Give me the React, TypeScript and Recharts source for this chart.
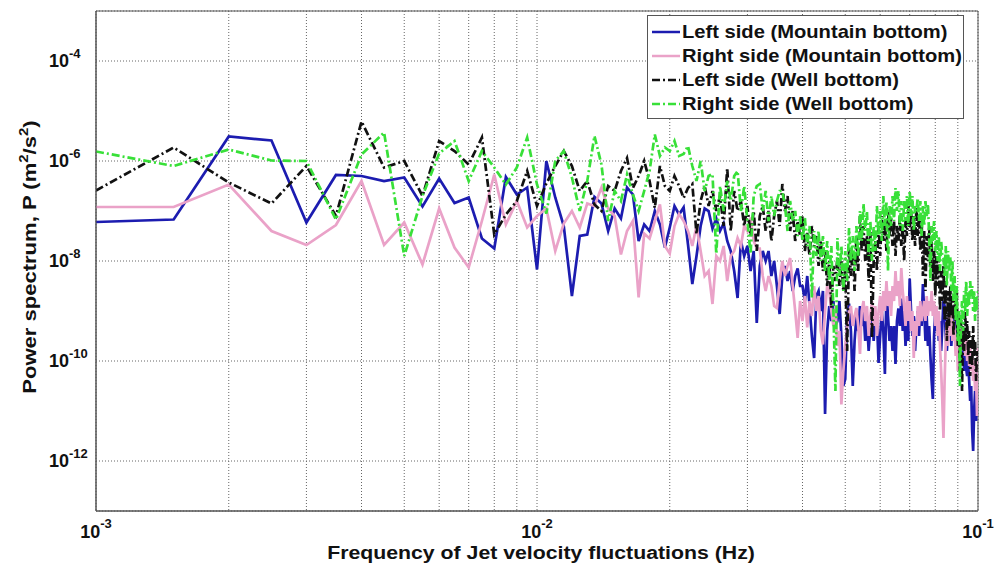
import { LineChart, Line, XAxis, YAxis, CartesianGrid, Legend, ReferenceArea } from "recharts";

// frequency in mHz (step 0.5 mHz)
const freqMHz = [
  1, 1.5, 2, 2.5, 3, 3.5, 4, 4.5, 5, 5.5,
  6, 6.5, 7, 7.5, 8, 8.5, 9, 9.5, 10, 10.5,
  11, 11.5, 12, 12.5, 13, 13.5, 14, 14.5, 15, 15.5,
  16, 16.5, 17, 17.5, 18, 18.5, 19, 19.5, 20, 20.5,
  21, 21.5, 22, 22.5, 23, 23.5, 24, 24.5, 25, 25.5,
  26, 26.5, 27, 27.5, 28, 28.5, 29, 29.5, 30, 30.5,
  31, 31.5, 32, 32.5, 33, 33.5, 34, 34.5, 35, 35.5,
  36, 36.5, 37, 37.5, 38, 38.5, 39, 39.5, 40, 40.5,
  41, 41.5, 42, 42.5, 43, 43.5, 44, 44.5, 45, 45.5,
  46, 46.5, 47, 47.5, 48, 48.5, 49, 49.5, 50, 50.5,
  51, 51.5, 52, 52.5, 53, 53.5, 54, 54.5, 55, 55.5,
  56, 56.5, 57, 57.5, 58, 58.5, 59, 59.5, 60, 60.5,
  61, 61.5, 62, 62.5, 63, 63.5, 64, 64.5, 65, 65.5,
  66, 66.5, 67, 67.5, 68, 68.5, 69, 69.5, 70, 70.5,
  71, 71.5, 72, 72.5, 73, 73.5, 74, 74.5, 75, 75.5,
  76, 76.5, 77, 77.5, 78, 78.5, 79, 79.5, 80, 80.5,
  81, 81.5, 82, 82.5, 83, 83.5, 84, 84.5, 85, 85.5,
  86, 86.5, 87, 87.5, 88, 88.5, 89, 89.5, 90, 90.5,
  91, 91.5, 92, 92.5, 93, 93.5, 94, 94.5, 95, 95.5,
  96, 96.5, 97, 97.5, 98, 98.5, 99, 99.5, 100,
];

// log10 of power spectrum
const leftMountain = [
  -7.22, -7.17, -5.51, -5.59, -7.23, -6.28, -6.3, -6.4, -6.33, -6.91,
  -6.35, -6.84, -6.73, -7.55, -7.75, -6.32, -6.67, -6.53, -8.17, -6.0,
  -6.73, -7.3, -8.7, -7.5, -7.47, -6.72, -6.85, -7.4, -6.95, -7.15,
  -6.53, -6.67, -7.6, -7.27, -7.4, -7.0, -7.27, -7.73, -7.33, -6.9,
  -7.07, -6.93, -7.67, -8.46, -7.9, -7.3, -6.95, -7.0, -7.35, -7.15,
  -7.4, -7.25, -7.6, -7.8, -8.2, -8.74, -7.6, -7.9, -7.7, -8.2,
  -7.8, -9.24, -8.1, -7.8, -8.0, -7.8, -8.3, -8.0, -8.5, -9.06,
  -8.3, -8.1, -8.4, -8.2, -8.6, -8.3, -8.15, -8.5, -8.5, -8.8,
  -8.3, -8.9, -9.5, -9.94, -8.7, -8.6, -9.0, -8.6, -11.06, -9.4,
  -8.9, -9.2, -8.8, -9.3, -9.2, -8.8, -9.5, -10.5, -10.36, -9.1,
  -8.85, -9.4, -10.5, -9.6, -9.1, -9.4, -8.9, -9.3, -9.0, -9.6,
  -9.2, -9.8, -9.3, -9.1, -9.6, -9.15, -9.2, -10.04, -9.5, -9.0,
  -9.4, -10.26, -8.6, -9.1, -9.6, -9.3, -9.8, -9.3, -10.06, -9.2,
  -8.95, -9.3, -8.75, -9.4, -9.0, -9.7, -9.2, -9.6, -8.35, -9.0,
  -9.5, -9.1, -9.8, -9.3, -9.0, -9.5, -8.9, -9.3, -8.46, -9.0,
  -9.6, -9.1, -9.7, -9.3, -9.9, -10.4, -10.76, -9.5, -9.0, -9.4,
  -9.0, -9.6, -9.2, -9.8, -9.3, -8.8, -8.9, -9.5, -9.8, -9.4,
  -9.0, -9.3, -9.7, -9.2, -9.5, -9.1, -9.6, -9.3, -9.8, -9.4,
  -9.9, -9.6, -10.0, -9.7, -10.2, -9.9, -10.14, -10.3, -10.0, -10.4,
  -10.8, -10.5, -11.4, -11.8, -11.0, -10.6, -11.2, -10.4, -10.2,
];

const rightMountain = [
  -6.92, -6.92, -6.47, -7.4, -7.68, -7.28, -6.4, -7.68, -7.23, -8.07,
  -6.95, -7.73, -8.13, -7.2, -6.27, -7.27, -6.8, -7.33, -7.1, -6.95,
  -7.8, -7.25, -7.0, -7.33, -6.85, -6.9, -6.53, -6.95, -7.1, -7.87,
  -7.4, -7.2, -8.73, -7.45, -7.55, -7.2, -6.87, -7.7, -7.85, -7.3,
  -7.06, -7.2, -7.4, -7.7, -7.3, -7.8, -8.3, -8.2, -8.86, -7.9,
  -8.0, -7.7, -8.4, -7.9, -7.8, -7.54, -7.7, -7.3, -7.4, -7.13,
  -7.6, -7.75, -7.75, -8.3, -8.6, -8.3, -8.5, -8.9, -8.94, -8.4,
  -8.0, -8.3, -8.1, -7.94, -8.5, -9.0, -9.54, -8.8, -9.2, -8.7,
  -9.33, -8.8, -9.1, -8.5, -9.0, -8.7, -9.4, -9.67, -9.0, -8.5,
  -8.6, -9.0, -9.3, -8.9, -9.7, -9.4, -10.87, -10.2, -9.7, -9.3,
  -9.0, -8.9, -9.3, -9.1, -8.94, -9.3, -9.86, -9.0, -8.8, -9.2,
  -8.9, -9.5, -9.1, -8.8, -9.3, -8.9, -9.5, -9.0, -8.7, -9.2,
  -8.6, -9.0, -8.4, -8.9, -8.6, -9.1, -8.5, -8.8, -8.2, -8.7,
  -8.4, -8.9, -8.14, -8.6, -8.9, -9.3, -8.7, -9.2, -8.8, -9.4,
  -9.0, -9.94, -9.2, -9.5, -8.9, -9.3, -8.8, -9.2, -9.0, -8.8,
  -9.2, -8.7, -9.1, -8.8, -9.0, -8.6, -9.1, -8.8, -9.3, -8.9,
  -9.5, -9.0, -9.7, -10.2, -10.8, -11.54, -10.4, -9.6, -9.2, -9.7,
  -9.1, -9.5, -8.9, -9.6, -9.2, -9.4, -9.9, -9.5, -10.2, -9.7,
  -9.4, -9.8, -9.3, -9.7, -9.4, -9.9, -9.5, -10.0, -9.6, -10.1,
  -9.7, -10.2, -9.8, -10.4, -10.0, -10.6, -10.3, -11.1, -9.74,
];

const leftWell = [
  -6.59, -5.73, -6.43, -6.85, -6.1, -7.1, -5.21, -6.13, -6.0, -6.7,
  -5.6, -5.8, -6.07, -5.53, -7.47, -7.07, -6.8, -6.2, -6.9, -6.45,
  -6.1, -5.8, -6.1, -6.6, -6.4, -6.87, -7.0, -6.5, -6.6, -6.2,
  -5.94, -6.54, -6.3, -6.0, -6.4, -6.94, -6.1, -6.5, -6.6, -6.3,
  -6.5, -6.74, -6.54, -6.46, -7.46, -6.8, -6.5, -6.9, -6.6, -7.0,
  -6.7, -7.3, -6.14, -7.4, -6.6, -7.0, -6.8, -7.3, -6.9, -7.5,
  -7.0, -7.8, -7.1, -6.9, -7.4, -7.0, -7.6, -7.1, -6.8, -7.3,
  -6.46, -7.0, -6.7, -7.4, -7.0, -7.6, -7.2, -7.5, -7.1, -7.8,
  -7.44, -7.9, -7.3, -7.7, -7.5, -8.1, -7.6, -8.2, -7.8, -8.5,
  -8.0, -8.94, -8.1, -8.4, -7.94, -8.5, -8.0, -8.6, -8.2, -9.8,
  -7.74, -8.3, -7.8, -8.6, -7.5, -8.2, -7.1, -7.8, -7.3, -8.0,
  -7.5, -8.4, -7.4, -9.54, -8.0, -7.6, -8.2, -7.3, -7.9, -7.1,
  -7.6, -7.2, -7.8, -7.0, -7.5, -7.14, -7.7, -7.2, -7.9, -7.3,
  -7.6, -7.1, -7.7, -7.3, -8.0, -7.2, -7.5, -6.9, -7.4, -7.0,
  -7.6, -7.1, -7.7, -6.94, -7.5, -7.1, -7.8, -7.2, -8.3, -7.4,
  -8.6, -7.5, -8.0, -7.3, -8.2, -7.6, -8.4, -7.8, -8.7, -7.9,
  -8.5, -8.0, -9.0, -8.2, -8.8, -8.1, -9.2, -8.4, -9.6, -8.6,
  -9.3, -8.5, -9.1, -8.7, -9.5, -8.8, -9.2, -8.6, -9.7, -9.0,
  -10.2, -9.1, -10.6, -9.3, -9.8, -9.0, -9.6, -9.2, -9.9, -9.4,
  -10.3, -9.5, -10.1, -9.3, -9.9, -9.6, -10.4, -9.8, -10.0,
];

const rightWell = [
  -5.81, -6.1, -5.77, -5.99, -6.0, -7.17, -5.87, -5.43, -7.9, -6.7,
  -5.85, -5.6, -6.4, -5.8, -6.13, -6.47, -6.13, -5.53, -6.47, -7.05,
  -6.0, -5.8, -6.33, -7.0, -6.4, -5.5, -6.07, -7.2, -6.6, -6.8,
  -6.27, -6.67, -7.0, -6.6, -6.2, -5.47, -5.9, -5.73, -5.8, -5.6,
  -5.9, -5.86, -5.7, -6.1, -6.4, -6.0, -6.6, -6.3, -6.26, -7.86,
  -6.5, -7.0, -6.4, -6.8, -6.3, -6.2, -7.0, -6.5, -7.2, -7.86,
  -6.7, -6.5, -6.46, -7.0, -6.6, -7.2, -6.7, -7.1, -6.8, -6.6,
  -6.6, -6.9, -7.4, -6.8, -7.2, -7.0, -7.5, -7.1, -7.6, -7.14,
  -7.7, -7.3, -8.74, -7.4, -7.9, -7.4, -8.0, -7.5, -8.2, -7.6,
  -8.4, -7.7, -9.0, -10.6, -7.54, -8.3, -7.7, -8.6, -7.8, -8.4,
  -7.34, -8.0, -7.5, -8.2, -7.3, -7.9, -7.0, -7.6, -6.86, -7.4,
  -7.0, -7.9, -7.2, -8.0, -7.3, -7.8, -6.9, -7.5, -7.0, -7.6,
  -6.7, -7.3, -6.8, -8.2, -6.9, -7.3, -6.7, -7.2, -6.54, -7.0,
  -6.6, -7.3, -6.8, -7.4, -6.8, -7.2, -6.7, -7.3, -6.6, -7.1,
  -6.7, -7.4, -6.9, -7.0, -6.74, -7.2, -6.8, -7.5, -6.9, -7.3,
  -6.8, -7.1, -6.86, -7.5, -8.4, -7.3, -7.6, -7.2, -7.8, -7.4,
  -8.0, -7.5, -8.2, -7.6, -7.9, -7.94, -8.3, -7.7, -8.5, -7.8,
  -8.2, -7.9, -8.6, -8.0, -8.8, -8.3, -9.2, -8.5, -9.6, -9.0,
  -10.5, -9.2, -8.8, -9.4, -8.6, -9.0, -8.4, -9.1, -8.6, -8.9,
  -8.4, -8.7, -8.5, -9.0, -8.6, -9.2, -8.7, -9.0, -8.6,
];

const xTicks = [
  0.001, 0.002, 0.003, 0.004, 0.005, 0.006, 0.007, 0.008, 0.009,
  0.01, 0.02, 0.03, 0.04, 0.05, 0.06, 0.07, 0.08, 0.09, 0.1,
];
const xLabelTicks = [0.001, 0.01, 0.1];
const yTicks = [1e-12, 1e-10, 1e-8, 1e-6, 1e-4];

const series = [
  { key: "leftMountain", name: "Left side (Mountain bottom)", color: "#1c1cb0", dash: undefined },
  { key: "rightMountain", name: "Right side (Mountain bottom)", color: "#eaa2c8", dash: undefined },
  { key: "leftWell", name: "Left side (Well bottom)", color: "#111111", dash: "8 3 2 3" },
  { key: "rightWell", name: "Right side (Well bottom)", color: "#38e038", dash: "8 3 2 3" },
];

const data = freqMHz.map((m, i) => ({
  f: m / 1000,
  leftMountain: 10 ** leftMountain[i],
  rightMountain: 10 ** rightMountain[i],
  leftWell: 10 ** leftWell[i],
  rightWell: 10 ** rightWell[i],
}));

const FONT = "'Liberation Sans', Arial, sans-serif";

const exponentOf = (v: number) => Math.round(Math.log10(v));

const XTick = ({ x, y, payload }: any) => {
  if (!xLabelTicks.some((t) => Math.abs(t - payload.value) < 1e-9)) return null;
  return (
    <text x={x} y={y + 19} textAnchor="middle" fontFamily={FONT} fontWeight="bold" fontSize={18} fill="#111">
      <tspan>10</tspan>
      <tspan dy={-10} fontSize={13}>{exponentOf(payload.value)}</tspan>
    </text>
  );
};

const YTick = ({ x, y, payload }: any) => (
  <text x={x - 39} y={y + 6} textAnchor="start" fontFamily={FONT} fontWeight="bold" fontSize={18} fill="#111">
    <tspan>10</tspan>
    <tspan dy={-9} fontSize={13}>{exponentOf(payload.value)}</tspan>
  </text>
);

const YTitle = ({ viewBox }: any) => {
  const cx = viewBox.x + 36;
  const cy = viewBox.y + viewBox.height / 2 - 4;
  return (
    <g transform={`translate(${cx}, ${cy}) rotate(-90) scale(1.16, 1)`}>
      <text x={0} y={0} textAnchor="middle" fontFamily={FONT} fontWeight="bold" fontSize={19} fill="#111">
        <tspan>Power spectrum, P (m</tspan>
        <tspan dy={-8} fontSize={13}>2</tspan>
        <tspan dy={8}>/s</tspan>
        <tspan dy={-8} fontSize={13}>2</tspan>
        <tspan dy={8}>)</tspan>
      </text>
    </g>
  );
};

const XTitle = ({ viewBox }: any) => (
  <g transform={`translate(${viewBox.x + viewBox.width / 2 + 4}, ${viewBox.y + 48}) scale(1.12, 1)`}>
    <text x={0} y={0} textAnchor="middle" fontFamily={FONT} fontWeight="bold" fontSize={19} fill="#111">
      Frequency of Jet velocity fluctuations (Hz)
    </text>
  </g>
);

const LegendBox = () => (
  <svg width={318} height={105} style={{ display: "block" }}>
    <rect x={0.5} y={0.5} width={316} height={103} fill="#fff" stroke="#555" strokeWidth={1} />
    {series.map((s, i) => (
      <g key={s.key}>
        <line
          x1={5}
          x2={33}
          y1={17 + i * 24}
          y2={17 + i * 24}
          stroke={s.color}
          strokeWidth={2.5}
          strokeDasharray={s.dash}
        />
        <g transform={`translate(35, ${17 + i * 24 + 6}) scale(1.12, 1)`}>
          <text x={0} y={0} fontFamily={FONT} fontWeight="bold" fontSize={18} fill="#111">
            {s.name}
          </text>
        </g>
      </g>
    ))}
  </svg>
);

export default function App() {
  return (
    <div style={{ position: "absolute", left: 0, top: 0, width: 994, height: 573, background: "#fff" }}>
      <LineChart width={994} height={573} data={data} margin={{ top: 11, right: 16, bottom: 0, left: 0 }}>
        <CartesianGrid stroke="#666" strokeDasharray="1 2" />
        <XAxis
          dataKey="f"
          type="number"
          scale="log"
          domain={[0.001, 0.1]}
          ticks={xTicks}
          interval={0}
          allowDataOverflow
          height={62}
          tick={XTick}
          tickLine={false}
          axisLine={{ stroke: "#555" }}
          label={{ content: XTitle }}
        />
        <YAxis
          type="number"
          scale="log"
          domain={[1e-13, 1e-3]}
          ticks={yTicks}
          interval={0}
          allowDataOverflow
          width={96}
          tick={YTick}
          tickLine={false}
          axisLine={{ stroke: "#555" }}
          label={{ content: YTitle }}
        />
        <ReferenceArea x1={0.001} x2={0.1} y1={1e-13} y2={1e-3} fill="none" stroke="#555" strokeOpacity={1} />
        {series.map((s) => (
          <Line
            key={s.key}
            dataKey={s.key}
            name={s.name}
            type="linear"
            stroke={s.color}
            strokeWidth={2.7}
            strokeDasharray={s.dash}
            dot={false}
            activeDot={false}
            isAnimationActive={false}
          />
        ))}
        <Legend
          layout="vertical"
          align="center"
          verticalAlign="middle"
          content={LegendBox}
          wrapperStyle={{ left: 647, top: 15, width: 318, height: 105 }}
        />
      </LineChart>
    </div>
  );
}
